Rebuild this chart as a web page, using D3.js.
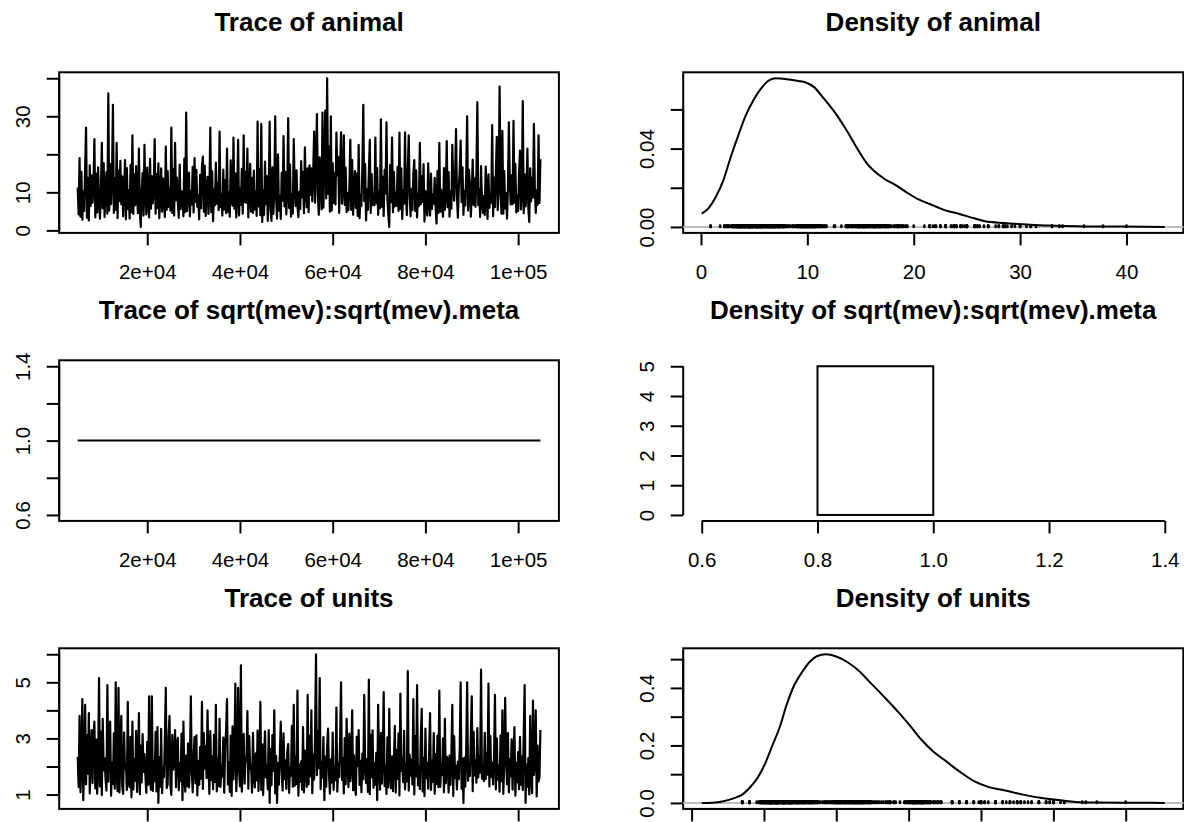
<!DOCTYPE html>
<html>
<head>
<meta charset="utf-8">
<script src="https://cdn.jsdelivr.net/npm/d3@7"></script>
<style>
  html, body { margin: 0; padding: 0; background: #fff; overflow: hidden; }
  svg { display: block; font-family: "Liberation Sans", Arial, Helvetica, sans-serif; }
</style>
</head>
<body>
<svg id="chart" width="1184" height="822"></svg>
<script>
// ---- MCMC output (thinned chain, iteration = iterStart + i * iterThin) ----
const terms = ["animal", "sqrt(mev):sqrt(mev).meta", "units"];
const iterStart = 5001;
const iterThin = 200;

const animalSamples = [
  11.3, 4.2, 19.0, 3.6, 15.4, 2.8, 10.2, 5.1, 16.2, 27.0, 3.3, 13.8, 2.6, 17.1, 6.4, 14.5, 7.3, 11.6, 24.0, 3.4,
  14.9, 4.7, 16.6, 8.3, 3.1, 9.6, 23.0, 5.8, 17.7, 3.5, 10.8, 15.3, 4.4, 36.0, 5.2, 17.4, 6.9, 14.1, 33.0, 4.6,
  13.6, 5.4, 23.0, 3.2, 15.8, 7.7, 18.3, 6.9, 14.2, 3.7, 9.9, 18.5, 2.9, 16.4, 5.6, 10.5, 3.1, 17.2, 4.8, 25.0,
  4.3, 14.7, 6.6, 16.9, 8.8, 4.5, 21.5, 5.3, 0.9, 10.1, 15.1, 3.9, 22.5, 9.3, 4.2, 16.5, 7.6, 3.4, 18.8, 5.7,
  14.3, 7.1, 10.7, 24.0, 4.4, 14.8, 5.9, 17.6, 3.2, 9.4, 16.3, 4.9, 13.7, 8.2, 3.5, 22.0, 5.4, 15.6, 6.2, 11.1,
  5.2, 27.0, 4.6, 16.1, 3.9, 23.0, 7.9, 13.9, 7.4, 3.3, 17.3, 5.6, 10.3, 9.1, 3.7, 18.9, 4.8, 31.0, 5.1, 9.8,
  15.2, 3.7, 10.4, 6.8, 16.7, 4.7, 19.0, 7.5, 15.9, 6.2, 9.2, 2.9, 14.6, 5.8, 16.8, 19.4, 4.9, 17.0, 3.8, 10.6,
  14.1, 4.3, 9.7, 27.0, 4.8, 15.5, 2.4, 10.9, 6.6, 17.8, 7.0, 12.5, 5.3, 26.0, 6.1, 9.5, 3.9, 16.0, 5.5, 13.2,
  4.5, 21.5, 4.9, 10.0, 3.6, 18.4, 7.9, 6.5, 24.4, 5.7, 15.0, 3.4, 9.1, 23.8, 3.9, 11.0, 6.7, 16.2, 4.4, 25.0,
  7.4, 15.3, 7.2, 21.5, 3.4, 9.9, 17.5, 4.9, 13.8, 4.6, 15.7, 5.5, 10.2, 3.8, 28.6, 6.3, 16.1, 4.0, 28.0, 2.2,
  10.6, 4.1, 18.1, 6.9, 14.3, 2.5, 9.6, 28.6, 5.7, 2.5, 16.6, 4.3, 10.3, 30.0, 8.6, 3.1, 20.0, 5.2, 9.0, 3.0,
  15.1, 7.8, 24.8, 6.3, 15.4, 4.2, 10.7, 29.5, 5.9, 17.3, 3.6, 9.4, 4.4, 24.0, 11.3, 6.4, 15.8, 6.5, 3.5, 10.1,
  5.6, 18.2, 8.7, 15.3, 4.5, 21.8, 10.4, 6.1, 16.3, 4.8, 17.1, 9.4, 16.3, 7.6, 15.2, 26.0, 7.3, 16.9, 30.6, 9.7,
  4.1, 19.2, 11.4, 5.5, 31.0, 6.0, 17.9, 31.5, 8.4, 40.0, 9.6, 22.1, 4.9, 30.0, 5.2, 17.6, 7.2, 15.0, 6.8, 25.7,
  14.4, 19.3, 4.6, 16.2, 25.8, 7.0, 10.5, 25.0, 6.7, 16.5, 4.8, 9.8, 5.3, 11.2, 23.8, 5.4, 18.5, 4.1, 10.0, 15.6,
  5.9, 14.9, 3.8, 22.5, 3.2, 9.3, 6.4, 16.8, 33.0, 7.7, 17.4, 2.6, 10.8, 5.4, 15.2, 23.8, 4.6, 14.8, 6.6, 9.5,
  6.6, 24.4, 7.1, 16.4, 4.1, 10.2, 5.8, 29.2, 6.2, 14.1, 3.8, 15.9, 9.7, 28.4, 8.1, 4.2, 0.9, 17.2, 7.4, 24.4,
  4.8, 15.4, 6.3, 9.9, 6.5, 16.7, 5.1, 25.7, 5.6, 16.3, 3.0, 10.6, 7.0, 25.8, 8.9, 4.0, 15.5, 25.0, 9.1, 3.7,
  10.9, 5.3, 15.0, 18.5, 5.1, 15.8, 3.4, 9.6, 6.4, 23.0, 6.9, 14.3, 7.5, 17.4, 2.3, 10.3, 8.0, 3.9, 17.6, 7.7,
  3.9, 14.9, 5.6, 9.4, 7.0, 13.8, 6.3, 1.8, 15.6, 4.6, 23.0, 4.9, 10.7, 6.0, 3.6, 16.4, 5.4, 9.9, 23.5, 6.1,
  15.3, 3.6, 10.2, 5.7, 22.5, 11.8, 7.8, 14.6, 26.6, 9.2, 3.3, 11.1, 15.7, 23.6, 7.4, 16.6, 4.1, 10.4, 6.5, 14.8,
  30.0, 5.2, 15.9, 11.7, 3.6, 9.7, 18.6, 6.7, 13.7, 6.2, 14.9, 33.7, 6.6, 10.8, 3.5, 16.9, 7.8, 4.6, 9.0, 4.0,
  16.8, 10.1, 3.0, 14.7, 5.9, 9.6, 7.3, 27.7, 3.7, 13.9, 6.1, 15.4, 24.6, 5.3, 10.5, 37.8, 11.5, 4.4, 26.2, 4.4,
  15.6, 5.8, 9.8, 3.1, 11.0, 28.4, 12.6, 6.8, 14.5, 6.9, 28.8, 7.3, 17.5, 4.7, 9.3, 5.1, 15.3, 21.0, 5.5, 10.0,
  34.0, 4.5, 14.8, 6.3, 9.5, 21.5, 5.8, 2.2, 16.3, 7.6, 13.8, 8.6, 28.0, 11.2, 4.6, 10.6, 6.7, 25.0, 7.2, 18.7
];

const unitsSamples = [
  2.34, 1.27, 3.80, 1.08, 2.21, 4.40, 0.80, 2.05, 4.20, 1.36, 3.12, 1.74, 3.90, 1.04, 2.42, 3.30, 1.41, 3.07, 3.60, 1.22,
  2.96, 1.03, 1.97, 5.15, 1.29, 3.24, 0.98, 3.70, 1.86, 2.29, 1.57, 1.14, 4.90, 1.46, 3.01, 3.60, 0.96, 2.13, 1.38, 3.18,
  1.21, 5.00, 1.74, 1.12, 4.80, 1.07, 2.37, 3.80, 1.31, 1.02, 3.21, 1.92, 2.08, 1.16, 4.30, 1.39, 1.26, 3.06, 0.90, 3.60,
  1.18, 2.26, 1.49, 3.27, 1.09, 2.01, 3.90, 1.01, 2.74, 1.43, 3.15, 1.81, 2.44, 1.68, 1.06, 2.88, 1.35, 4.50, 1.52, 1.17,
  4.50, 1.13, 2.17, 1.47, 3.23, 1.11, 3.40, 0.70, 2.33, 1.28, 3.34, 1.05, 1.95, 1.62, 2.95, 4.80, 1.23, 1.37, 3.09, 3.80,
  1.32, 0.99, 3.13, 1.89, 2.24, 3.30, 1.26, 2.71, 3.02, 1.15, 2.11, 1.48, 3.17, 0.80, 3.60, 1.73, 1.10, 2.39, 1.30, 2.82,
  1.25, 2.03, 4.50, 1.87, 1.08, 2.31, 3.05, 1.40, 3.11, 0.97, 2.19, 1.34, 2.69, 1.56, 4.30, 1.20, 3.19, 1.93, 2.73, 1.58,
  4.00, 2.09, 1.02, 3.26, 1.51, 2.36, 1.19, 3.14, 1.45, 4.20, 1.11, 2.27, 1.30, 3.70, 1.27, 1.99, 1.64, 3.03, 1.06, 2.75,
  3.22, 4.40, 1.36, 2.14, 1.09, 3.10, 0.95, 3.43, 1.54, 2.41, 4.95, 1.12, 2.06, 4.80, 1.88, 1.29, 5.60, 1.10, 2.23, 3.16,
  1.39, 2.32, 2.18, 3.97, 1.21, 3.08, 1.91, 2.02, 1.07, 3.20, 1.72, 1.25, 2.47, 1.50, 3.28, 1.13, 2.16, 4.30, 1.16, 2.79,
  0.98, 2.28, 3.25, 1.61, 2.04, 1.18, 3.30, 0.70, 2.62, 1.33, 3.12, 1.84, 4.00, 1.04, 2.38, 0.70, 2.12, 1.35, 2.46, 3.60,
  1.85, 1.14, 3.18, 1.55, 2.22, 1.20, 2.53, 2.80, 1.06, 1.98, 1.66, 3.45, 1.28, 4.20, 1.31, 2.34, 1.38, 4.70, 0.96, 2.07,
  1.46, 2.18, 1.17, 3.40, 1.08, 2.57, 2.01, 1.27, 4.55, 1.36, 3.09, 1.65, 4.00, 1.05, 2.43, 1.53, 3.14, 6.00, 1.69, 3.26,
  1.94, 5.15, 1.19, 2.15, 1.60, 3.05, 0.80, 2.35, 1.28, 2.68, 3.35, 1.76, 1.03, 2.25, 1.43, 3.21, 1.16, 1.96, 1.51, 4.10,
  1.10, 2.10, 1.63, 2.94, 5.00, 1.52, 2.30, 1.04, 3.01, 1.37, 3.70, 2.24, 1.26, 3.17, 1.48, 2.05, 4.00, 1.15, 2.40, 1.32,
  0.99, 3.06, 2.01, 3.30, 1.34, 2.20, 1.08, 2.46, 1.54, 4.55, 2.12, 1.41, 2.26, 1.09, 5.10, 1.01, 3.13, 1.62, 3.29, 1.24,
  2.11, 1.35, 2.49, 0.80, 4.20, 1.97, 1.17, 3.20, 1.39, 2.33, 4.65, 1.30, 2.02, 1.02, 3.04, 1.25, 4.05, 1.74, 1.23, 2.36,
  1.12, 2.19, 3.45, 1.07, 2.59, 1.56, 3.18, 0.97, 4.60, 1.83, 2.29, 1.44, 3.27, 1.18, 2.08, 1.47, 5.40, 1.14, 2.42, 1.67,
  2.24, 1.36, 4.40, 1.00, 3.08, 1.64, 4.90, 1.33, 2.00, 1.19, 2.98, 4.05, 1.11, 2.31, 0.94, 3.35, 1.58, 2.13, 1.21, 2.47,
  3.90, 1.16, 2.21, 1.45, 3.19, 1.03, 2.44, 1.38, 3.10, 1.26, 4.70, 1.27, 2.06, 1.70, 3.00, 1.08, 3.70, 1.40, 2.35, 2.27,
  1.07, 2.39, 1.34, 2.38, 4.20, 0.95, 3.07, 1.59, 2.03, 1.18, 2.17, 1.55, 2.65, 5.00, 1.20, 2.27, 0.70, 2.32, 1.28, 2.55,
  5.00, 1.49, 2.09, 1.66, 3.16, 4.50, 1.12, 3.23, 1.68, 2.23, 1.42, 3.37, 1.61, 2.37, 1.78, 5.45, 1.57, 1.99, 1.48, 3.20,
  1.55, 2.48, 1.71, 4.95, 1.29, 3.09, 1.63, 2.14, 1.36, 2.28, 4.55, 1.18, 3.00, 1.53, 2.04, 1.10, 3.11, 1.47, 4.00, 1.02,
  2.16, 4.45, 2.32, 1.37, 3.19, 1.08, 2.25, 1.65, 2.97, 1.17, 2.45, 3.40, 0.96, 2.12, 1.44, 2.51, 1.19, 3.06, 1.35, 2.35,
  1.16, 3.05, 4.90, 0.70, 2.07, 1.27, 2.30, 1.00, 3.80, 1.67, 1.05, 4.35, 1.70, 2.18, 4.00, 0.93, 2.74, 1.46, 1.62, 3.30
];

// fixed term: the chain never moves from 1
const mevIters = [5001, 104801];
const mevValues = [1.0, 1.0];
const mevHistBreaks = [0.6, 0.8, 1.0, 1.2, 1.4];
const mevHistDensity = [0, 5, 0, 0];

// kernel density estimates of the posterior samples
const densAnimalX = [0.07, 0.7, 1.4, 2.1, 2.8, 3.5, 4.2, 4.9, 5.6, 6.3, 7.0, 8.1, 9.15, 9.85, 10.6, 11.6, 12.7, 13.7,
  14.8, 15.5, 16.2, 17.2, 18.3, 19.4, 20.4, 21.5, 22.9, 24.3, 25.7, 26.7, 28.5, 30.3, 32.7, 35.5, 39.8, 43.6];
const densAnimalY = [0.0068, 0.0095, 0.0154, 0.0238, 0.0357, 0.0466, 0.0568, 0.0644, 0.0703, 0.0745, 0.0759, 0.0754,
  0.0745, 0.0737, 0.0715, 0.0652, 0.0576, 0.0492, 0.039, 0.0331, 0.0289, 0.0247, 0.0213, 0.0174, 0.0142, 0.0117,
  0.0086, 0.0066, 0.0044, 0.0029, 0.002, 0.0014, 0.0007, 0.0003, 0.0002, 0.0];

const densUnitsX = [0.14, 0.28, 0.44, 0.59, 0.70, 0.80, 0.91, 1.01, 1.11, 1.22, 1.32, 1.42, 1.53, 1.63, 1.73, 1.86,
  1.99, 2.15, 2.30, 2.46, 2.66, 2.87, 3.03, 3.18, 3.34, 3.49, 3.70, 3.91, 4.11, 4.32, 4.58, 4.84, 5.1, 5.41, 5.98, 6.54];
const densUnitsY = [0, 0.001, 0.006, 0.017, 0.029, 0.052, 0.087, 0.133, 0.196, 0.265, 0.346, 0.41, 0.456, 0.49, 0.51,
  0.517, 0.51, 0.49, 0.462, 0.421, 0.369, 0.312, 0.265, 0.219, 0.179, 0.15, 0.11, 0.075, 0.055, 0.044, 0.029, 0.017,
  0.009, 0.002, 0.001, 0];

// ---- axis ticks and labels ----
const traceXTicks = [20000, 40000, 60000, 80000, 100000];
const traceXLabels = ["2e+04", "4e+04", "6e+04", "8e+04", "1e+05"];

const animalTraceYTicks = [0, 10, 20, 30, 40];
const animalTraceYLabels = ["0", "10", "", "30", ""];
const animalDensXTicks = [0, 10, 20, 30, 40];
const animalDensXLabels = ["0", "10", "20", "30", "40"];
const animalDensYTicks = [0, 0.02, 0.04, 0.06];
const animalDensYLabels = ["0.00", "", "0.04", ""];

const mevTraceYTicks = [0.6, 0.8, 1.0, 1.2, 1.4];
const mevTraceYLabels = ["0.6", "", "1.0", "", "1.4"];
const mevDensXTicks = [0.6, 0.8, 1.0, 1.2, 1.4];
const mevDensXLabels = ["0.6", "0.8", "1.0", "1.2", "1.4"];
const mevDensYTicks = [0, 1, 2, 3, 4, 5];
const mevDensYLabels = ["0", "1", "2", "3", "4", "5"];

const unitsTraceYTicks = [1, 2, 3, 4, 5, 6];
const unitsTraceYLabels = ["1", "", "3", "", "5", ""];
const unitsDensXTicks = [0, 1, 2, 3, 4, 5, 6];
const unitsDensXLabels = ["0", "1", "2", "3", "4", "5", "6"];
const unitsDensYTicks = [0, 0.1, 0.2, 0.3, 0.4, 0.5];
const unitsDensYLabels = ["0.0", "", "0.2", "", "0.4", ""];

// ---- layout ----
const W = 1184, H = 822;
const colX = [[59.2, 558.9], [683.2, 1183.3]];
const rowY = r => [72.3 + 288 * r, 232.9 + 288 * r];
const LW = 2;          // base line width
const LW_TRACE = 2.2;  // sampled chain line width
const TICK = 12.5;     // tick length
const FS_TICK = 20.5;  // tick label size
const FS_MAIN = 26;    // panel title size
const XLAB_OFF = 46.5; // baseline of x tick labels below the axis

// range padded by 4% on each side; a zero-width range is widened first
function padRange(lo, hi) {
  if (lo === hi) { const d = Math.abs(lo) * 0.4 || 1; lo -= d; hi += d; }
  const p = (hi - lo) * 0.04;
  return [lo - p, hi + p];
}

const svg = d3.select("#chart");
svg.append("rect").attr("width", W).attr("height", H).attr("fill", "#fff");

function panel(opt) {
  const [x0, x1] = colX[opt.col];
  const [y0, y1] = rowY(opt.row);
  const x = d3.scaleLinear().domain(opt.xDom).range([x0, x1]);
  const y = d3.scaleLinear().domain(opt.yDom).range([y1, y0]);
  const g = svg.append("g");

  g.append("text")
    .attr("x", (x0 + x1) / 2).attr("y", y0 - 41.5)
    .attr("text-anchor", "middle")
    .attr("font-size", FS_MAIN).attr("font-weight", "bold")
    .attr("fill", "#000")
    .text(opt.title);

  // bottom axis
  const ax = g.append("g").attr("transform", `translate(0,${y1})`)
    .call(d3.axisBottom(x).tickValues(opt.xTicks).tickSize(TICK)
      .tickFormat((d, i) => opt.xLabels[i]));
  ax.select(".domain").remove();
  ax.selectAll(".tick line").attr("stroke", "#000").attr("stroke-width", LW);
  if (y1 + XLAB_OFF - 0.72 * FS_TICK < H) {
    ax.selectAll(".tick text").attr("y", XLAB_OFF).attr("dy", null)
      .attr("font-size", FS_TICK).attr("font-family", null).attr("fill", "#000");
  } else {
    // labels would fall below the bottom of the figure
    ax.selectAll(".tick text").remove();
  }
  ax.append("line")
    .attr("x1", x(opt.xTicks[0])).attr("x2", x(opt.xTicks[opt.xTicks.length - 1]))
    .attr("stroke", "#000").attr("stroke-width", LW);

  // left axis, labels parallel to the axis
  const ay = g.append("g").attr("transform", `translate(${x0},0)`)
    .call(d3.axisLeft(y).tickValues(opt.yTicks).tickSize(TICK)
      .tickFormat((d, i) => opt.yLabels[i]));
  ay.select(".domain").remove();
  ay.selectAll(".tick line").attr("stroke", "#000").attr("stroke-width", LW);
  ay.selectAll(".tick text").attr("x", null).attr("dy", null)
    .attr("text-anchor", "middle")
    .attr("transform", "translate(-29,0) rotate(-90)")
    .attr("font-size", FS_TICK).attr("font-family", null).attr("fill", "#000");
  ay.append("line")
    .attr("y1", y(opt.yTicks[0])).attr("y2", y(opt.yTicks[opt.yTicks.length - 1]))
    .attr("stroke", "#000").attr("stroke-width", LW);

  if (opt.box !== false) {
    g.append("rect").attr("x", x0).attr("y", y0)
      .attr("width", x1 - x0).attr("height", y1 - y0)
      .attr("fill", "none").attr("stroke", "#000").attr("stroke-width", LW);
  }
  return { g, x, y, x0, x1 };
}

function tracePanel(row, name, samples, yTicks, yLabels) {
  const iters = samples.map((d, i) => iterStart + i * iterThin);
  const p = panel({
    col: 0, row, title: "Trace of " + name,
    xDom: padRange(d3.min(iters), d3.max(iters)),
    yDom: padRange(d3.min(samples), d3.max(samples)),
    xTicks: traceXTicks, xLabels: traceXLabels, yTicks, yLabels
  });
  p.g.append("path")
    .datum(samples)
    .attr("fill", "none").attr("stroke", "#000").attr("stroke-width", LW_TRACE)
    .attr("stroke-linejoin", "round")
    .attr("d", d3.line().x((d, i) => p.x(iters[i])).y(d => p.y(d)));
}

function densityPanel(row, name, dx, dy, samples, xTicks, xLabels, yTicks, yLabels) {
  const p = panel({
    col: 1, row, title: "Density of " + name,
    xDom: padRange(d3.min(dx), d3.max(dx)),
    yDom: padRange(0, d3.max(dy)),
    xTicks, xLabels, yTicks, yLabels
  });
  // zero reference line
  p.g.append("line")
    .attr("x1", p.x0).attr("x2", p.x1).attr("y1", p.y(0)).attr("y2", p.y(0))
    .attr("stroke", "#bebebe").attr("stroke-width", LW);
  // sample rug
  const top = d3.max(dy) / 100;
  p.g.append("g").selectAll("line").data(samples).join("line")
    .attr("x1", d => p.x(d)).attr("x2", d => p.x(d))
    .attr("y1", p.y(0)).attr("y2", p.y(top))
    .attr("stroke", "#000").attr("stroke-width", 2.6).attr("stroke-linecap", "round");
  // density curve
  p.g.append("path")
    .datum(dx.map((v, i) => [v, dy[i]]))
    .attr("fill", "none").attr("stroke", "#000").attr("stroke-width", LW)
    .attr("stroke-linejoin", "round")
    .attr("d", d3.line().x(d => p.x(d[0])).y(d => p.y(d[1])).curve(d3.curveMonotoneX));
}

// row 1: animal
tracePanel(0, terms[0], animalSamples, animalTraceYTicks, animalTraceYLabels);
densityPanel(0, terms[0], densAnimalX, densAnimalY, animalSamples,
  animalDensXTicks, animalDensXLabels, animalDensYTicks, animalDensYLabels);

// row 2: fixed measurement-error term
{
  const p = panel({
    col: 0, row: 1, title: "Trace of " + terms[1],
    xDom: padRange(mevIters[0], mevIters[1]),
    yDom: padRange(d3.min(mevValues), d3.max(mevValues)),
    xTicks: traceXTicks, xLabels: traceXLabels,
    yTicks: mevTraceYTicks, yLabels: mevTraceYLabels
  });
  p.g.append("path")
    .datum(mevIters.map((it, i) => [it, mevValues[i]]))
    .attr("fill", "none").attr("stroke", "#000").attr("stroke-width", LW)
    .attr("d", d3.line().x(d => p.x(d[0])).y(d => p.y(d[1])));

  const q = panel({
    col: 1, row: 1, title: "Density of " + terms[1],
    xDom: padRange(mevHistBreaks[0], mevHistBreaks[mevHistBreaks.length - 1]),
    yDom: padRange(0, d3.max(mevHistDensity)),
    xTicks: mevDensXTicks, xLabels: mevDensXLabels,
    yTicks: mevDensYTicks, yLabels: mevDensYLabels,
    box: false
  });
  q.g.append("g").selectAll("rect").data(mevHistDensity).join("rect")
    .attr("x", (d, i) => q.x(mevHistBreaks[i]))
    .attr("width", (d, i) => q.x(mevHistBreaks[i + 1]) - q.x(mevHistBreaks[i]))
    .attr("y", d => q.y(d))
    .attr("height", d => q.y(0) - q.y(d))
    .attr("fill", "none").attr("stroke", "#000").attr("stroke-width", LW);
}

// row 3: units
tracePanel(2, terms[2], unitsSamples, unitsTraceYTicks, unitsTraceYLabels);
densityPanel(2, terms[2], densUnitsX, densUnitsY, unitsSamples,
  unitsDensXTicks, unitsDensXLabels, unitsDensYTicks, unitsDensYLabels);
</script>
</body>
</html>
